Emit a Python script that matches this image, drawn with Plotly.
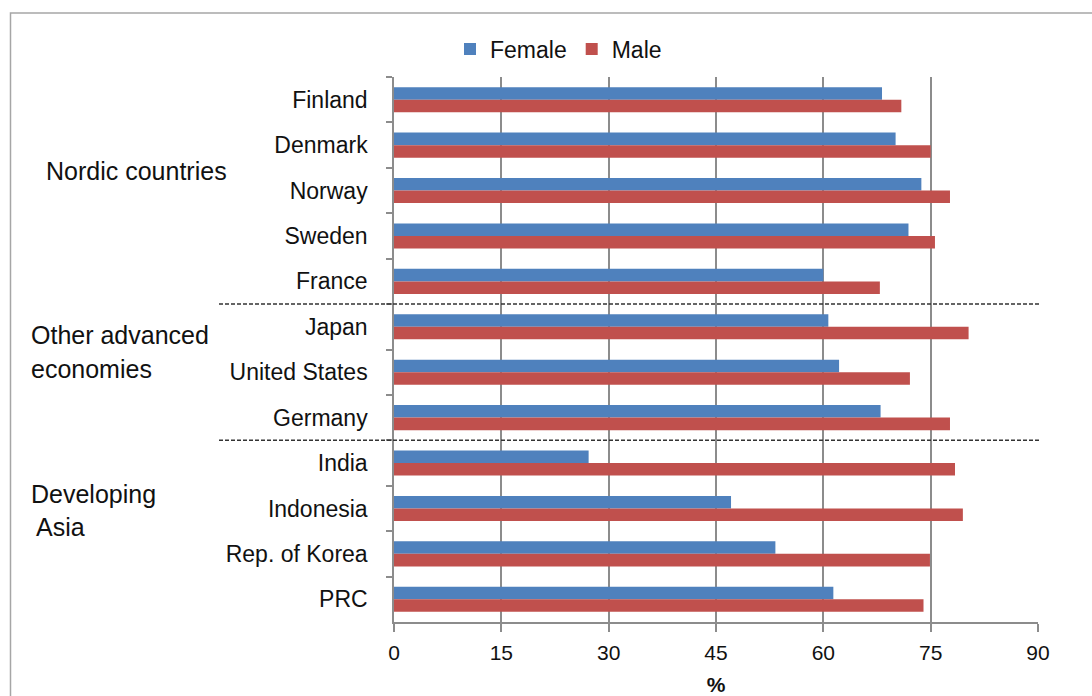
import plotly.graph_objects as go

# Labour force participation rates (%) by sex
countries = ["Finland", "Denmark", "Norway", "Sweden", "France", "Japan",
             "United States", "Germany", "India", "Indonesia",
             "Rep. of Korea", "PRC"]
female = [68.2, 70.1, 73.7, 71.9, 60.0, 60.7, 62.2, 68.0, 27.2, 47.1, 53.3, 61.4]
male = [70.9, 75.0, 77.7, 75.6, 67.9, 80.3, 72.1, 77.7, 78.4, 79.5, 74.9, 74.0]
x_ticks = [0, 15, 30, 45, 60, 75, 90]

# group separators sit between these category indices
separators = [4.5, 7.5]

W, H = 1092, 696
ML, MR, MT, MB = 394, 54, 77, 74
PW, PH = W - ML - MR, H - MT - MB


def px_x(p):
    return (p - ML) / PW


def px_y(p):
    return 1 - (p - MT) / PH


FONT = "Liberation Sans"
BLUE = "#4F81BD"
RED = "#C0504D"
GRID = "#8C8C8C"
TEXT = "#111111"

fig = go.Figure()
fig.add_trace(go.Bar(y=countries, x=female, orientation="h", name="Female",
                     marker=dict(color=BLUE, line=dict(width=0))))
fig.add_trace(go.Bar(y=countries, x=male, orientation="h", name="Male",
                     marker=dict(color=RED, line=dict(width=0))))

shapes = []
for s in separators:
    shapes.append(dict(type="line", xref="paper", yref="y",
                       x0=px_x(219), x1=px_x(1041), y0=s, y1=s,
                       line=dict(color="#333333", width=1.5, dash="4px,2px")))
# outer chart frame
shapes.append(dict(type="rect", xref="paper", yref="paper",
                   x0=px_x(10.5), x1=px_x(1200), y0=px_y(800), y1=px_y(13),
                   line=dict(color="#A6A6A6", width=1.5), layer="below"))

groups = [
    ("Nordic countries", 44, 171),
    ("Other advanced", 29, 335),
    ("economies", 29, 369),
    ("Developing", 29, 494),
    ("Asia", 34, 527),
]
annotations = [dict(text=t, xref="paper", yref="paper", x=px_x(gx), y=px_y(gy),
                    xanchor="left", yanchor="middle", showarrow=False,
                    font=dict(family=FONT, size=25, color=TEXT))
               for t, gx, gy in groups]

fig.update_layout(
    width=W, height=H,
    margin=dict(l=ML, r=MR, t=MT, b=MB),
    paper_bgcolor="white", plot_bgcolor="white",
    barmode="group", bargap=0.448, bargroupgap=0,
    font=dict(family=FONT, color=TEXT),
    showlegend=True,
    legend=dict(orientation="h", x=px_x(450), y=px_y(49), xanchor="left",
                yanchor="middle", font=dict(family=FONT, size=23, color=TEXT),
                itemwidth=30, bgcolor="rgba(0,0,0,0)"),
    shapes=shapes,
    annotations=annotations,
)
fig.update_yaxes(type="category", categoryorder="array", categoryarray=countries,
                 autorange="reversed", showline=True, linecolor=GRID, linewidth=1.5,
                 ticks="outside", tickson="boundaries", ticklen=6, tickcolor=GRID,
                 tickwidth=1.5, showgrid=False, ticklabelstandoff=20,
                 automargin=False,
                 tickfont=dict(family=FONT, size=23, color=TEXT))
fig.update_xaxes(range=[0, 90], tickvals=x_ticks, showgrid=True, gridcolor=GRID,
                 gridwidth=2, zeroline=False, showline=True, linecolor=GRID,
                 linewidth=1.5, ticks="outside", ticklen=8, tickcolor=GRID,
                 tickwidth=1.5, tickfont=dict(family=FONT, size=21, color=TEXT),
                 ticklabelstandoff=3, automargin=False,
                 title=dict(text="<b>%</b>", font=dict(family=FONT, size=21, color=TEXT),
                            standoff=18))

fig.write_html("out.html")
